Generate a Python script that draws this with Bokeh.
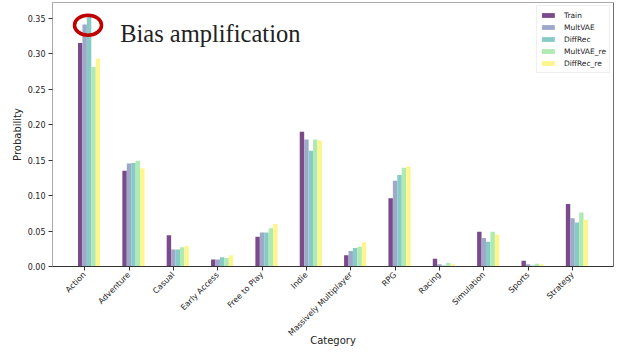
import numpy as np
from bokeh.plotting import figure
from bokeh.models import (ColumnDataSource, FixedTicker, NumeralTickFormatter, Label,
                          Legend, LegendItem, Span, Range1d)
from bokeh.embed import file_html
from bokeh.resources import INLINE
from bokeh.core.properties import value

categories = ["Action", "Adventure", "Casual", "Early Access", "Free to Play", "Indie",
              "Massively Multiplayer", "RPG", "Racing", "Simulation", "Sports", "Strategy"]
train = [0.315, 0.135, 0.044, 0.010, 0.042, 0.190, 0.016, 0.096, 0.011, 0.049, 0.008, 0.088]
multvae = [0.341, 0.145, 0.024, 0.010, 0.048, 0.179, 0.022, 0.121, 0.003, 0.040, 0.003, 0.068]
diffrec = [0.355, 0.146, 0.024, 0.013, 0.048, 0.163, 0.026, 0.129, 0.0015, 0.035, 0.0015, 0.062]
multvae_re = [0.281, 0.149, 0.027, 0.012, 0.054, 0.179, 0.028, 0.139, 0.005, 0.049, 0.004, 0.076]
diffrec_re = [0.293, 0.1385, 0.029, 0.016, 0.060, 0.1775, 0.034, 0.141, 0.003, 0.045, 0.003, 0.066]
series_names = ["Train", "MultVAE", "DiffRec", "MultVAE_re", "DiffRec_re"]
series_values = [train, multvae, diffrec, multvae_re, diffrec_re]
colors = ["#7b4a8b", "#9ea8c9", "#86cbc6", "#aeeab2", "#fdf68e"]
y_ticks = [0.00, 0.05, 0.10, 0.15, 0.20, 0.25, 0.30, 0.35]
title_text = "Bias amplification"

bar_w = 0.1
idx = np.arange(len(categories))

p = figure(width=629, height=352, output_backend="svg", toolbar_location=None,
           x_range=Range1d(-0.725, 11.925), y_range=Range1d(0, 0.372),
           min_border_left=52, min_border_right=16, min_border_top=2, min_border_bottom=86)
p.background_fill_color = "white"
p.border_fill_color = "white"
p.xgrid.visible = False
p.ygrid.visible = False
p.outline_line_color = "#aaaaaa"
p.outline_line_width = 1

items = []
for k, (name, vals, c) in enumerate(zip(series_names, series_values, colors)):
    src = ColumnDataSource(dict(x=idx + (k - 1) * bar_w, top=vals))
    r = p.vbar(x="x", top="top", width=bar_w, source=src, fill_color=c, line_color=None)
    items.append(LegendItem(label=name, renderers=[r]))

# right spine
p.add_layout(Span(location=11.925, dimension="height", line_color="#333333", line_width=1))

# axes
p.xaxis.ticker = FixedTicker(ticks=list(idx))
p.xaxis.major_label_overrides = {int(i): c for i, c in zip(idx, categories)}
p.xaxis.major_label_orientation = np.pi / 4
p.xaxis.axis_label = "Category"
p.yaxis.ticker = FixedTicker(ticks=y_ticks)
p.yaxis.formatter = NumeralTickFormatter(format="0.00")
p.yaxis.axis_label = "Probability"
for ax in (p.xaxis[0], p.yaxis[0]):
    ax.major_label_text_font = "DejaVu Sans"
    ax.major_label_text_font_size = "8px"
    ax.major_label_text_color = "#222222"
    ax.axis_label_text_font = "DejaVu Sans"
    ax.axis_label_text_font_size = "10px"
    ax.axis_label_text_font_style = "normal"
    ax.axis_label_text_color = "#222222"
    ax.minor_tick_line_color = None
    ax.major_tick_in = 0
    ax.major_tick_out = 4
    ax.major_tick_line_color = "#333333"
p.xaxis.major_label_standoff = 3
p.xaxis.axis_label_standoff = -9
p.yaxis.major_label_standoff = 3
p.yaxis.axis_label_standoff = 2
p.xaxis.axis_line_color = "#333333"
p.yaxis.axis_line_color = "#aaaaaa"

legend = Legend(items=items, location="top_right", margin=3, padding=3, spacing=0,
                label_text_font="DejaVu Sans", label_text_font_size="7.5px",
                label_text_color="#222222", label_height=12, glyph_height=6, glyph_width=16,
                label_standoff=8, border_line_color="#dddddd", border_line_width=1,
                background_fill_alpha=1.0)
p.add_layout(legend)

# annotations: title text and red ellipse around the top of the Action group
p.add_layout(Label(x=0.80, y=0.328, text=title_text, text_font="Liberation Serif",
                   text_font_size="24.5px", text_color="#222222", text_baseline="alphabetic"))
p.ellipse(x=[0.076], y=[0.340], width=27, height=20, width_units="screen",
          height_units="screen", fill_color=None, line_color="#c00000", line_width=3.5)

open("out.html", "w").write(file_html(p, INLINE))
